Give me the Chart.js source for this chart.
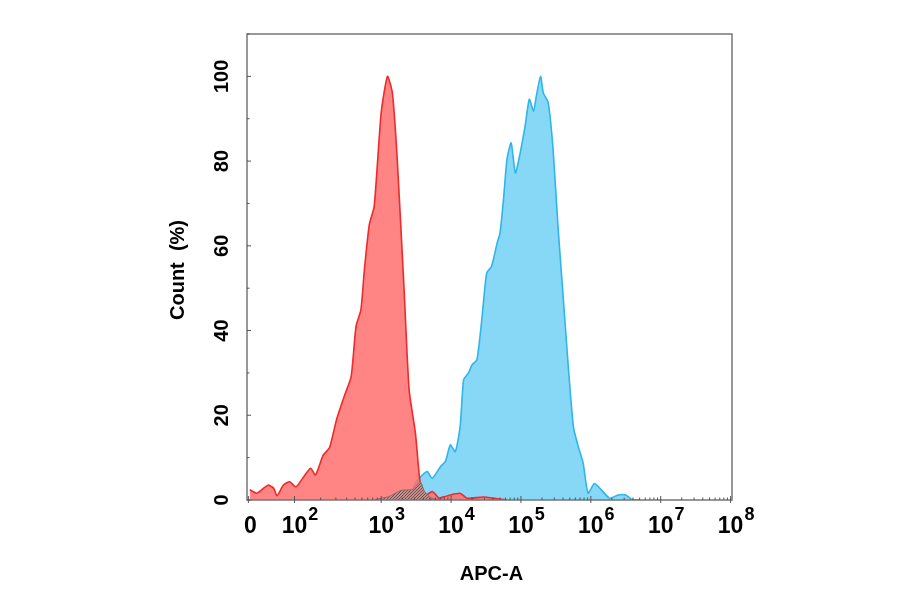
<!DOCTYPE html>
<html><head><meta charset="utf-8">
<script src="https://cdn.jsdelivr.net/npm/chart.js@4"></script>
<style>html,body{margin:0;background:#fff}#w{width:900px;height:594px}</style>
</head><body><div id="w"><canvas id="c"></canvas></div>
<script>
// x positions in display decades (0 label at 1.1, 10^2 at 1.76, 10^n at n)
const redX = [1.12,1.22,1.29,1.38,1.46,1.51,1.60,1.69,1.78,1.88,1.99,2.06,2.17,2.26,2.36,2.47,2.57,2.64,2.71,2.76,2.83,2.90,3.00,3.09,3.16,3.23,3.33,3.40,3.49,3.56,3.64,3.73,3.83,3.85,3.99,4.13,4.23,4.46,4.66,4.80];
const redY = [2.4,1.6,2.4,3.5,2.8,1.0,3.5,4.3,3.1,5.2,7.5,5.9,10.6,12.3,18.9,24.4,29.1,41,44.9,54.4,65,69.3,91.4,100,96.1,80.4,48.9,26,15.8,3.9,1.2,2,0.4,0.5,1.2,1.6,0.4,0.7,0.3,0];
const blueX = [3.40,3.49,3.59,3.66,3.73,3.85,3.92,3.99,4.06,4.13,4.18,4.25,4.30,4.37,4.44,4.51,4.58,4.66,4.70,4.75,4.80,4.86,4.92,4.99,5.06,5.12,5.18,5.22,5.28,5.32,5.39,5.46,5.53,5.60,5.67,5.75,5.82,5.89,5.96,6.05,6.15,6.27,6.39,6.50,6.58,6.70];
const blueY = [0,4,5.9,6.7,5.1,7.9,9.1,13,11.4,17.3,28.4,30,31.9,33.1,42.6,53.6,55.2,60.7,63,70.9,80.4,84.3,77.2,82,88.3,94.6,91.8,95.3,100,96.1,93.8,82.7,64.6,48.9,33.1,17.3,12.6,8.7,1.6,3.9,2.4,0.4,1.2,1.2,0.2,0];
const greyX = [2.90,2.97,3.11,3.29,3.45,3.56,3.62,3.71,3.85];
const greyY = [0,0.3,0.8,2.3,2.5,4.3,2,0.5,0];
const xTickPos = [1.1,1.76,3,4,5,6,7,8];
const xTickExp = [null,'2','3','4','5','6','7','8'];
const yTicks = [0,20,40,60,80,100];
const xTitle = 'APC-A', yTitle = 'Count  (%)';

const pts=(xs,ys)=>xs.map((x,i)=>({x,y:ys[i]}));
const font='"Liberation Sans", Arial, sans-serif';
const deco={id:'deco',afterDraw(ch){
  const c=ch.ctx,xs=ch.scales.x,ys=ch.scales.y,a=ch.chartArea;
  c.save();
  c.strokeStyle='#777';c.lineWidth=1.5;
  c.strokeRect(a.left,a.top,a.right-a.left,a.bottom-a.top);
  c.lineWidth=1;c.strokeStyle='#555';
  for(let v=0;v<=110;v+=10){const p=ys.getPixelForValue(v);c.beginPath();c.moveTo(a.left,p);c.lineTo(a.left+(v%20==0?4:2.5),p);c.stroke();}
  for(let d=3;d<8;d++)for(let k=2;k<10;k++){const p=xs.getPixelForValue(d+Math.log10(k));c.beginPath();c.moveTo(p,a.bottom);c.lineTo(p,a.bottom-2.5);c.stroke();}
  for(let k=2;k<10;k++){const p=xs.getPixelForValue(1.76+1.24*Math.log10(k));c.beginPath();c.moveTo(p,a.bottom);c.lineTo(p,a.bottom-2.5);c.stroke();}
  xTickPos.forEach(v=>{const p=xs.getPixelForValue(v);c.beginPath();c.moveTo(p,a.bottom+3);c.lineTo(p,a.bottom-4);c.stroke();});
  c.fillStyle='#000';
  xTickPos.forEach((v,i)=>{const p=xs.getPixelForValue(v);const e=xTickExp[i];
    c.font='bold 23px '+font;c.textBaseline='alphabetic';
    if(!e){c.textAlign='center';c.fillText('0',p+2,533);return;}
    const w1=c.measureText('10').width;c.font='bold 18px '+font;const w2=c.measureText(e).width;
    const s=p+5-(w1+w2)/2;c.textAlign='left';c.font='bold 23px '+font;c.fillText('10',s,533);
    c.font='bold 18px '+font;c.fillText(e,s+w1+1,520);});
  c.font='bold 20px '+font;c.textAlign='center';c.fillText(xTitle,(a.left+a.right)/2+2,580);
  yTicks.forEach(v=>{const p=ys.getPixelForValue(v);c.save();c.translate(228,p);c.rotate(-Math.PI/2);c.font='bold 20px '+font;c.textAlign='center';c.fillText(String(v),0,0);c.restore();});
  c.save();c.translate(184,270);c.rotate(-Math.PI/2);c.font='bold 20px '+font;c.textAlign='center';c.fillText(yTitle,0,0);c.restore();
  c.restore();
}};
let pat=null;
(function(){const pc=document.createElement('canvas');pc.width=3;pc.height=3;const g=pc.getContext('2d');g.fillStyle='#c98a8a';g.fillRect(0,0,3,3);g.fillStyle='#6e5555';g.fillRect(0,0,1,1);g.fillRect(2,1,1,1);g.fillRect(1,2,1,1);pat=g.createPattern(pc,'repeat');})();
new Chart(document.getElementById('c'),{type:'scatter',
 data:{datasets:[
  {data:pts(greyX,greyY),showLine:true,fill:'origin',backgroundColor:pat,borderColor:'#8a6a6a',borderWidth:1,pointRadius:0,tension:0.2,order:1},
  {data:pts(redX,redY),showLine:true,fill:'origin',backgroundColor:'rgba(255,110,110,0.85)',borderColor:'#f02a2a',borderWidth:1.6,pointRadius:0,tension:0.2,order:2},
  {data:pts(blueX,blueY),showLine:true,fill:'origin',backgroundColor:'#87d8f7',borderColor:'#2fb5ea',borderWidth:1.6,pointRadius:0,tension:0.2,order:3}
 ]},
 options:{responsive:true,maintainAspectRatio:false,animation:false,
  layout:{padding:{left:247,right:168,top:34,bottom:94}},
  plugins:{legend:{display:false},tooltip:{enabled:false}},
  scales:{
   x:{type:'linear',min:1.08,max:8.02,ticks:{display:false},grid:{display:false,drawTicks:false},border:{display:false}},
   y:{type:'linear',min:0,max:110,ticks:{display:false},grid:{display:false,drawTicks:false},border:{display:false}}
  }},
 plugins:[deco]});
</script></body></html>
